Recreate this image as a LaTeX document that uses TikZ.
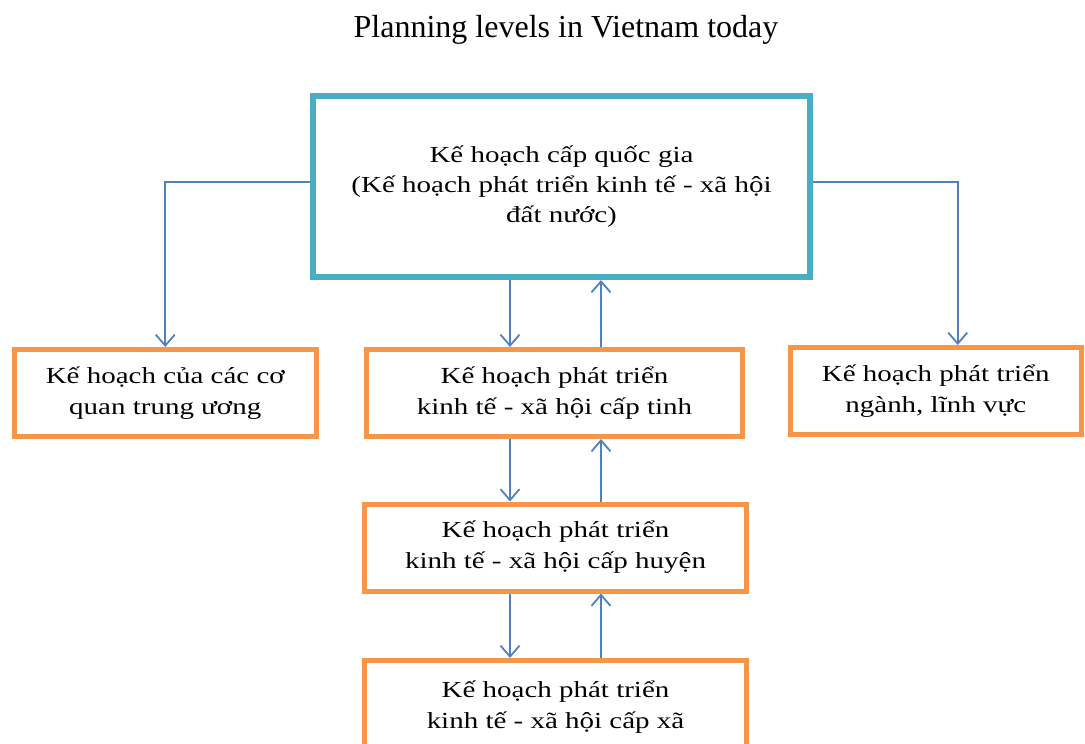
\documentclass[tikz,border=0pt]{standalone}
\usepackage{fontspec}
\setmainfont{Liberation Serif}
\newfontfamily\boxfont[FakeStretch=1.26]{Liberation Serif}
\usetikzlibrary{arrows.meta}
\definecolor{topblue}{HTML}{4BACC6}
\definecolor{boxorange}{HTML}{F79646}
\definecolor{arrowblue}{HTML}{4F81BD}
\begin{document}
\begin{tikzpicture}[x=1pt,y=-1pt,
  topbox/.style={draw=topblue, line width=6pt, minimum width=497pt, minimum height=181pt, align=center, font=\boxfont\fontsize{23}{30}\selectfont, inner sep=0pt},
  obox/.style={draw=boxorange, line width=5pt, minimum height=87pt, align=center, font=\boxfont\fontsize{23}{31}\selectfont, inner sep=0pt},
  arr/.style={draw=arrowblue, line width=1.8pt, -{Straight Barb[length=11pt,width=19pt]}}]
\useasboundingbox (0,0) rectangle (1085,744);
\clip (0,0) rectangle (1085,744);
\node[font=\fontsize{32}{38}\selectfont] (title) at (566,30) {Planning levels in Vietnam today};
\node[topbox] (T) at (561.5,186.5) {Kế hoạch cấp quốc gia\\(Kế hoạch phát triển kinh tế - xã hội\\đất nước)};
\node[obox, minimum width=301.5pt] (L) at (165.25,393) {Kế hoạch của các cơ\\quan trung ương};
\node[obox, minimum width=376pt] (M1) at (554.5,393) {Kế hoạch phát triển\\kinh tế - xã hội cấp tinh};
\node[obox, minimum width=290.5pt] (R) at (935.75,391) {Kế hoạch phát triển\\ngành, lĩnh vực};
\node[obox, minimum width=382pt] (M2) at (555.5,547.5) {Kế hoạch phát triển\\kinh tế - xã hội cấp huyện};
\node[obox, minimum width=382pt, minimum height=88pt, text depth=0pt] (M3) at (555.5,704.5) {Kế hoạch phát triển\\kinh tế - xã hội cấp xã};
\draw[arr] ([yshift=4.5pt]T.west) -| (L.north);
\draw[arr] ([yshift=4.5pt]T.east) -| ([xshift=22pt]R.north);
\draw[arr] (T.south -| 510,0) -- (M1.north -| 510,0);
\draw[arr] (M1.north -| 601,0) -- (T.south -| 601,0);
\draw[arr] (M1.south -| 510,0) -- (M2.north -| 510,0);
\draw[arr] (M2.north -| 601,0) -- (M1.south -| 601,0);
\draw[arr] (M2.south -| 510,0) -- (M3.north -| 510,0);
\draw[arr] (M3.north -| 601,0) -- (M2.south -| 601,0);
\end{tikzpicture}
\end{document}
